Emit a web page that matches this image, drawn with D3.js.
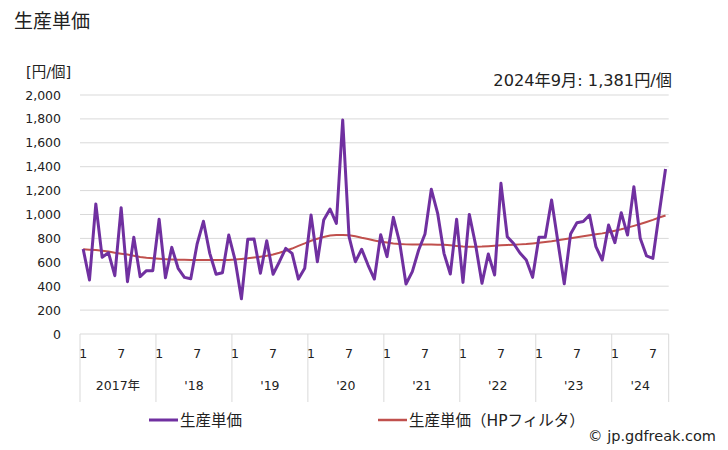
<!DOCTYPE html>
<html><head><meta charset="utf-8">
<script src="https://cdn.jsdelivr.net/npm/d3@7"></script>
<style>
body{margin:0;background:#fff;}
text{font-family:"DejaVu Sans","Noto Sans CJK JP",sans-serif;fill:#222;}
</style></head>
<body><svg id="c" width="728" height="450"></svg>
<script>
const years = ["2017年","'18","'19","'20","'21","'22","'23","'24"];
const monthTicks = ["1","7"];
const yTicks = [0,200,400,600,800,1000,1200,1400,1600,1800,2000];
const price = [711,452,1088,642,680,488,1057,438,809,480,530,530,
960,471,725,550,474,463,753,943,675,500,513,828,
619,295,792,795,508,781,500,605,717,675,460,550,
996,605,954,1046,926,1791,814,605,709,577,460,831,
647,976,764,418,522,703,837,1211,1010,675,502,960,
432,1001,745,424,669,494,1261,814,757,678,619,474,
809,809,1121,770,420,837,931,941,996,731,619,912,
764,1015,828,1233,801,653,633,1010,1381];
const hp = [709,706,703,697,690,680,672,665,655,645,638,633,
629,626,624,622,621,620,619,619,619,619,619,620,
623,628,633,640,647,655,666,680,697,715,738,758,
780,797,812,825,828,828,827,818,805,795,783,772,
765,758,753,750,748,748,748,748,747,746,742,737,
733,731,731,732,735,739,742,745,747,750,753,758,
764,770,776,784,793,802,810,818,826,834,842,852,
864,876,890,905,920,937,955,975,992];

const svg = d3.select("#c");
const L=80, R=668.7, T=95, B=334;
const idx = d3.range(price.length);
const x = d3.scaleBand().domain(idx).range([L,R]);
const y = d3.scaleLinear().domain([0,2000]).range([B,T]);
const cx = i => x(i)+x.bandwidth()/2;

svg.append("text").attr("x",14).attr("y",28).attr("font-size",19).text("生産単価");
svg.append("text").attr("x",26).attr("y",77).attr("font-size",14.5).text("[円/個]");
svg.append("text").attr("x",672).attr("y",86).attr("font-size",16.2).attr("text-anchor","end")
  .text("2024年9月: 1,381円/個");

// grid
svg.append("g").selectAll("line").data(yTicks).join("line")
  .attr("x1",L).attr("x2",R).attr("y1",d=>y(d)).attr("y2",d=>y(d))
  .attr("stroke","#d9d9d9").attr("stroke-width",1);
// y labels
const yAxis = d3.axisLeft(y).tickValues(yTicks).tickSize(0).tickPadding(0).tickFormat(d3.format(","));
const ya = svg.append("g").attr("transform",`translate(${61},0)`).call(yAxis);
ya.select(".domain").remove();
ya.selectAll("text").attr("font-size",12.5).attr("font-family",'"DejaVu Sans","Noto Sans CJK JP",sans-serif').attr("fill","#222");

// x axis separators
const yearStarts = years.map((_,k)=>k*12);
const bounds = yearStarts.map(i=>x(i)).concat([R]);
svg.append("g").selectAll("line").data(bounds).join("line")
  .attr("x1",d=>d).attr("x2",d=>d).attr("y1",B).attr("y2",402)
  .attr("stroke","#d9d9d9");
// month labels
const mIdx = idx.filter(i=>monthTicks.includes(String(i%12+1)));
svg.append("g").selectAll("text").data(mIdx).join("text")
  .attr("x",i=>cx(i)).attr("y",358).attr("font-size",12.5).attr("text-anchor","middle")
  .text(i=>String(i%12+1));
// year labels
svg.append("g").selectAll("text").data(years).join("text")
  .attr("x",(d,k)=>(bounds[k]+bounds[k+1])/2).attr("y",390).attr("font-size",12.5).attr("text-anchor","middle")
  .text(d=>d);

// lines
const line = d3.line().x((d,i)=>cx(i)).y(d=>y(d));
svg.append("path").datum(hp).attr("d",line).attr("fill","none").attr("stroke","#c0504d").attr("stroke-width",2);
svg.append("path").datum(price).attr("d",line).attr("fill","none").attr("stroke","#7030a0").attr("stroke-width",3).attr("stroke-linejoin","round");

// legend
const leg = [{t:"生産単価",c:"#7030a0",x:149,w:3},{t:"生産単価（HPフィルタ）",c:"#c0504d",x:378,w:2.5}];
leg.forEach(l=>{
  svg.append("line").attr("x1",l.x).attr("x2",l.x+29).attr("y1",420).attr("y2",420).attr("stroke",l.c).attr("stroke-width",l.w);
  svg.append("text").attr("x",l.x+31).attr("y",425.5).attr("font-size",15.5).text(l.t);
});
svg.append("text").attr("x",716).attr("y",441).attr("font-size",14.5).attr("text-anchor","end").text("© jp.gdfreak.com");
</script></body></html>
